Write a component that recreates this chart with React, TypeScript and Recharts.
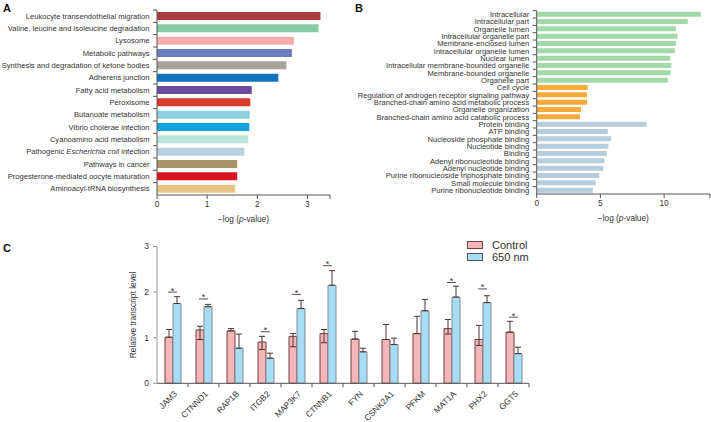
import React from 'react';
import { BarChart, Bar, XAxis, YAxis, Cell, ComposedChart, Line, ErrorBar } from 'recharts';

const FONT = '"Liberation Sans", Arial, Helvetica, sans-serif';
const AXIS = '#555';
const TEXT = '#333';

// ---------- Panel A: KEGG pathways ----------
const keggTerms = [
  'Leukocyte transendothelial migration',
  'Valine, leucine and isoleucine degradation',
  'Lysosome',
  'Metabolic pathways',
  'Synthesis and degradation of ketone bodies',
  'Adherens junction',
  'Fatty acid metabolism',
  'Peroxisome',
  'Butanoate metabolism',
  'Vibrio cholerae infection',
  'Cyanoamino acid metabolism',
  'Pathogenic Escherichia coli infection',
  'Pathways in cancer',
  'Progesterone-mediated oocyte maturation',
  'Aminoacyl-tRNA biosynthesis',
];
const keggValues = [3.26, 3.22, 2.73, 2.69, 2.58, 2.42, 1.89, 1.86, 1.85, 1.84, 1.82, 1.74, 1.6, 1.6, 1.56];
const keggColors = [
  '#a93a3d', '#86cba3', '#f5adb0', '#6b7cc0', '#a7a39a', '#1273bd', '#6a4b9e', '#d93a2b',
  '#8dd0e0', '#0fa5d8', '#bfe4de', '#b7cfdf', '#a89469', '#d9131f', '#e8c586',
];
const keggTicks = [0, 1, 2, 3];
const keggMax = 3.45;

// ---------- Panel B: GO terms ----------
const goTerms = [
  'Intracellular',
  'Intracellular part',
  'Organelle lumen',
  'Intracellular organelle part',
  'Membrane-enclosed lumen',
  'Intracellular organelle lumen',
  'Nuclear lumen',
  'Intracellular membrane-bounded organelle',
  'Membrane-bounded organelle',
  'Organelle part',
  'Cell cycle',
  'Regulation of androgen receptor signaling pathway',
  'Branched-chain amino acid metabolic process',
  'Organelle organization',
  'Branched-chain amino acid catabolic process',
  'Protein binding',
  'ATP binding',
  'Nucleoside phosphate binding',
  'Nucleotide binding',
  'Binding',
  'Adenyl ribonucleotide binding',
  'Adenyl nucleotide binding',
  'Purine ribonucleoside triphosphate binding',
  'Small molecule binding',
  'Purine ribonucleotide binding',
];
const goValues = [12.88, 11.86, 10.92, 11.05, 10.92, 10.84, 10.47, 10.57, 10.5, 10.29, 4.0, 3.95, 3.95, 3.48, 3.4, 8.64, 5.58, 5.84, 5.63, 5.5, 5.31, 5.23, 4.92, 4.63, 4.4];
const goGroups = ['CC', 'CC', 'CC', 'CC', 'CC', 'CC', 'CC', 'CC', 'CC', 'CC', 'BP', 'BP', 'BP', 'BP', 'BP', 'MF', 'MF', 'MF', 'MF', 'MF', 'MF', 'MF', 'MF', 'MF', 'MF'];
const goPalette: Record<string, string> = { CC: '#a3d8a8', BP: '#f8ab3a', MF: '#b5cddc' };
const goTicks = [0, 5, 10];
const goMax = 13.6;

// ---------- Panel C: qPCR ----------
const genes = ['JAM3', 'CTNND1', 'RAP1B', 'ITGB2', 'MAP3K7', 'CTNNB1', 'FYN', 'CSNK2A1', 'PFKM', 'MAT1A', 'PHX2', 'GGT5'];
const controlMeans = [1.01, 1.17, 1.15, 0.905, 1.03, 1.09, 0.97, 0.96, 1.09, 1.2, 0.96, 1.12];
const controlErrors = [[0, 0.17], [0.21, 0.08], [0, 0.05], [0.165, 0.125], [0.23, 0.06], [0.2, 0.09], [0, 0.17], [0, 0.33], [0, 0.38], [0.12, 0.2], [0.13, 0.31], [0, 0.24]];
const nmMeans = [1.75, 1.68, 0.77, 0.55, 1.64, 2.15, 0.69, 0.85, 1.59, 1.89, 1.77, 0.65];
const nmErrors = [[0, 0.15], [0, 0.05], [0, 0.31], [0, 0.11], [0, 0.18], [0, 0.32], [0, 0.08], [0, 0.14], [0, 0.25], [0, 0.24], [0, 0.15], [0, 0.14]];
const sigLevels = [2.0, 1.85, null, 1.13, 1.95, 2.58, null, null, null, 2.21, 2.07, 1.45];
const levelTicks = [0, 1, 2, 3];
const seriesNames = ['Control', '650 nm'];

const keggData = keggTerms.map((name, i) => ({ name, value: keggValues[i] }));
const goData = goTerms.map((name, i) => ({ name, value: goValues[i], group: goGroups[i] }));
const qpcrData = genes.map((gene, i) => ({
  gene,
  control: controlMeans[i],
  controlErr: controlErrors[i],
  nm: nmMeans[i],
  nmErr: nmErrors[i],
  sig: sigLevels[i],
}));

const ITALIC = 'Escherichia coli';

const makeCatTick = (fontSize: number, margin: number, fallbackOff: number) => (props: any) => {
  const { x, y, payload } = props;
  const off = payload && typeof payload.offset === 'number' ? payload.offset : fallbackOff;
  const ax = x + margin;
  const label = String(payload.value);
  const i = label.indexOf(ITALIC);
  return (
    <g>
      <line x1={ax - 4} x2={ax} y1={y - off} y2={y - off} stroke={AXIS} strokeWidth={1} />
      <text x={x} y={y} dy="0.35em" textAnchor="end" fontSize={fontSize} fill={TEXT} fontFamily={FONT}>
        {i >= 0 ? (
          <>
            <tspan>{label.slice(0, i)}</tspan>
            <tspan fontStyle="italic">{ITALIC}</tspan>
            <tspan>{label.slice(i + ITALIC.length)}</tspan>
          </>
        ) : (
          label
        )}
      </text>
    </g>
  );
};

const KeggTick = makeCatTick(7.6, 7.5, 6.2);
const GoTick = makeCatTick(7.6, 7.5, 3.67);

const PValueLabel = (props: any) => {
  const vb = props.viewBox || { x: 0, y: 0, width: 0 };
  const x = vb.x + vb.width / 2;
  const y = vb.y + (props.shift || 27);
  return (
    <text x={x} y={y} textAnchor="middle" fontSize={8.3} fill={TEXT} fontFamily={FONT}>
      −log (<tspan fontStyle="italic">p</tspan>-value)
    </text>
  );
};

const YLabel = (props: any) => {
  const vb = props.viewBox || { x: 0, y: 0, height: 0 };
  const cx = vb.x + 26;
  const cy = vb.y + vb.height / 2;
  return (
    <text x={cx} y={cy} transform={`rotate(-90 ${cx} ${cy})`} textAnchor="middle" dominantBaseline="central" fontSize={8.4} fill={TEXT} fontFamily={FONT}>
      Relative transcript level
    </text>
  );
};

const GeneTick = (props: any) => {
  const { x, y, payload } = props;
  const off = payload && typeof payload.offset === 'number' ? payload.offset : 15.5;
  const axisY = y - 6;
  const tx = x + 3;
  const ty = y + 3;
  return (
    <g>
      <line x1={x + off} x2={x + off} y1={axisY} y2={axisY + 4} stroke={AXIS} strokeWidth={1} />
      <text x={tx} y={ty} transform={`rotate(-45 ${tx} ${ty})`} textAnchor="end" dominantBaseline="central" fontSize={8.4} fill={TEXT} fontFamily={FONT}>
        {payload.value}
      </text>
    </g>
  );
};

const SigMark = (props: any) => {
  const { cx, cy, value } = props;
  if (value == null || cx == null || cy == null || Number.isNaN(cy)) return <g />;
  return (
    <g>
      <line x1={cx - 4.5} x2={cx + 4.5} y1={cy} y2={cy} stroke={AXIS} strokeWidth={1} />
      <text x={cx} y={cy + 1.5} textAnchor="middle" fontSize={9} fill={TEXT} fontFamily={FONT}>*</text>
    </g>
  );
};

const panelLetter = (letter: string, left: number, top: number) => (
  <div style={{ position: 'absolute', left, top, fontFamily: FONT, fontWeight: 'bold', fontSize: 11, lineHeight: '11px', color: '#111' }}>
    {letter}
  </div>
);

const legendRow = (label: string, fill: string, border: string, top: number) => (
  <div style={{ position: 'absolute', left: 467, top, height: 12, display: 'flex', alignItems: 'center', fontFamily: FONT, fontSize: 11, color: TEXT, whiteSpace: 'nowrap' }}>
    <span style={{ display: 'inline-block', width: 16, height: 8, boxSizing: 'border-box', background: fill, border: `1px solid ${border}`, marginRight: 9 }} />
    {label}
  </div>
);

export default function App() {
  return (
    <div style={{ position: 'absolute', left: 0, top: 0, width: 711, height: 422, background: '#fff', overflow: 'hidden' }}>
      <div style={{ position: 'absolute', left: 0, top: 0 }}>
        <BarChart width={345} height={232} layout="vertical" data={keggData} margin={{ top: 10, right: 15, bottom: 5, left: 7 }} style={{ fontFamily: FONT }}>
          <XAxis
            type="number"
            domain={[0, keggMax]}
            ticks={[...keggTicks, keggMax]}
            tickFormatter={(v: number) => (v === keggMax ? '' : String(v))}
            interval={0}
            allowDataOverflow
            height={32}
            tickSize={4}
            tickMargin={2}
            axisLine={{ stroke: AXIS }}
            tickLine={{ stroke: AXIS }}
            tick={{ fontSize: 8.3, fill: TEXT, fontFamily: FONT }}
            label={<PValueLabel shift={27} />}
          />
          <YAxis
            type="category"
            dataKey="name"
            width={150}
            interval={0}
            tickSize={0}
            tickMargin={7.5}
            tickLine={false}
            axisLine={{ stroke: AXIS }}
            tick={<KeggTick />}
          />
          <Bar dataKey="value" barSize={8} isAnimationActive={false}>
            {keggData.map((d, i) => (
              <Cell key={d.name} fill={keggColors[i]} />
            ))}
          </Bar>
        </BarChart>
      </div>

      <div style={{ position: 'absolute', left: 340, top: 0 }}>
        <BarChart width={371} height={232} layout="vertical" data={goData} margin={{ top: 10.7, right: 1, bottom: 6, left: 26.7 }} style={{ fontFamily: FONT }}>
          <XAxis
            type="number"
            domain={[0, goMax]}
            ticks={[...goTicks, goMax]}
            tickFormatter={(v: number) => (v === goMax ? '' : String(v))}
            interval={0}
            allowDataOverflow
            height={32}
            tickSize={4}
            tickMargin={2}
            axisLine={{ stroke: AXIS }}
            tickLine={{ stroke: AXIS }}
            tick={{ fontSize: 8.3, fill: TEXT, fontFamily: FONT }}
            label={<PValueLabel shift={27} />}
          />
          <YAxis
            type="category"
            dataKey="name"
            width={170}
            interval={0}
            tickSize={0}
            tickMargin={7.5}
            tickLine={false}
            axisLine={{ stroke: AXIS }}
            tick={<GoTick />}
          />
          <Bar dataKey="value" barSize={5} isAnimationActive={false}>
            {goData.map((d) => (
              <Cell key={d.name} fill={goPalette[d.group]} />
            ))}
          </Bar>
        </BarChart>
      </div>

      <div style={{ position: 'absolute', left: 0, top: 235 }}>
        <ComposedChart width={540} height={187} data={qpcrData} barGap={0} margin={{ top: 11.5, right: 11, bottom: 2.7, left: 107 }} style={{ fontFamily: FONT }}>
          <XAxis
            dataKey="gene"
            type="category"
            interval={0}
            height={36}
            tickSize={4}
            tickMargin={2}
            tickLine={false}
            axisLine={{ stroke: AXIS }}
            tick={<GeneTick />}
          />
          <YAxis
            type="number"
            domain={[0, 3]}
            ticks={levelTicks}
            interval={0}
            width={50}
            tickSize={4}
            tickMargin={4}
            axisLine={{ stroke: '#999' }}
            tickLine={{ stroke: '#999' }}
            tick={{ fontSize: 8.4, fill: TEXT, fontFamily: FONT }}
            label={<YLabel />}
          />
          <Bar dataKey="control" name={seriesNames[0]} barSize={8} fill="#f4b6b8" stroke="#6e4040" strokeWidth={1} isAnimationActive={false}>
            <ErrorBar dataKey="controlErr" direction="y" width={3} stroke="#4a3434" strokeWidth={1} />
          </Bar>
          <Bar dataKey="nm" name={seriesNames[1]} barSize={8} fill="#a6dcf6" stroke="#80898e" strokeWidth={1} isAnimationActive={false}>
            <ErrorBar dataKey="nmErr" direction="y" width={3} stroke="#4a3434" strokeWidth={1} />
          </Bar>
          <Line dataKey="sig" stroke="none" dot={<SigMark />} activeDot={false} legendType="none" isAnimationActive={false} />
        </ComposedChart>
      </div>

      {panelLetter('A', 3, 2.5)}
      {panelLetter('B', 355, 2.5)}
      {panelLetter('C', 3, 243)}
      {legendRow(seriesNames[0], '#f4b6b8', '#6e4040', 238.5)}
      {legendRow(seriesNames[1], '#a6dcf6', '#555', 250.5)}
    </div>
  );
}
